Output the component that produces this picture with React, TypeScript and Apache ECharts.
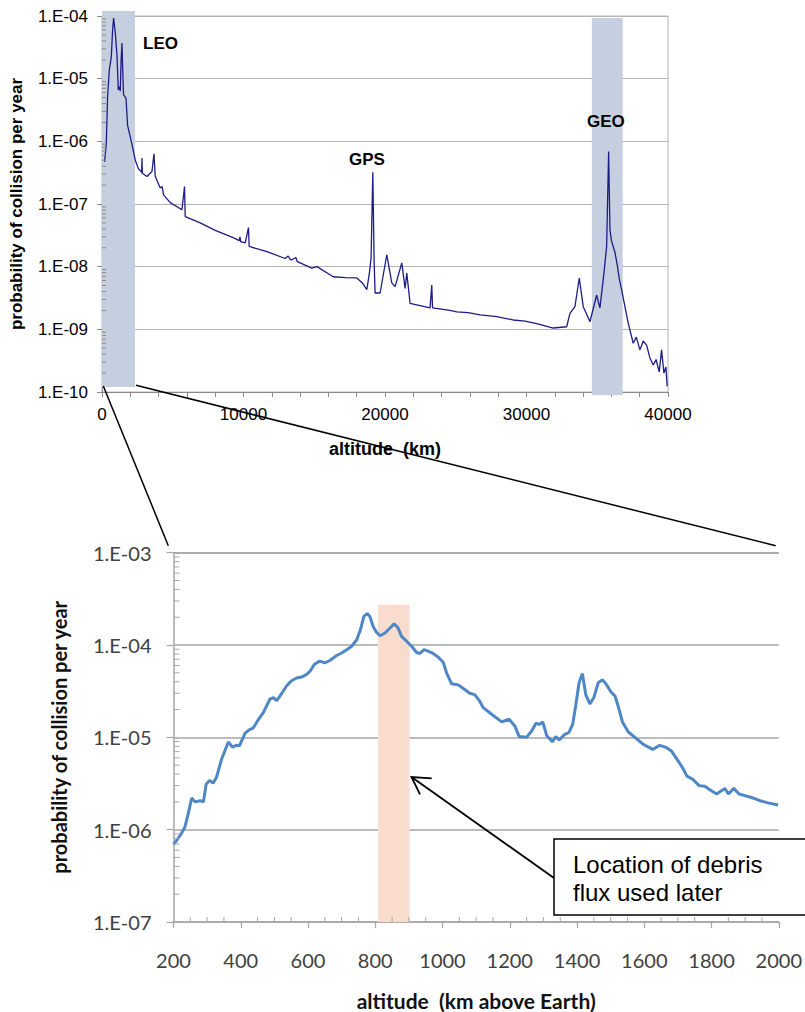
import React, { useEffect, useRef } from 'react';
import * as echarts from 'echarts';

// ---------- top chart: 0 - 40000 km ----------
const topAltitudeKm = [
  184, 304, 395, 516, 657, 750, 819, 890, 939, 1000, 1059, 1151, 1230, 1292, 1350, 1412, 1470, 1525,
  1695, 1808, 1999, 2161, 2352, 2563, 2800, 2825, 2850, 3178, 3531, 3672, 3764, 4117, 4250, 4350,
  4823, 5650, 5833, 5880, 6942, 8000, 9272, 9700, 9750, 9800, 10120, 10353, 10400, 11652, 12945,
  13160, 13300, 13418, 13700, 13800, 14830, 15200, 16335, 17200, 18008, 18400, 18714, 18898, 19018,
  19138, 19230, 19300, 19654, 20127, 20480, 20713, 21186, 21420, 21539, 21772, 23185, 23305, 23360,
  24597, 25070, 25870, 26715, 27900, 29046, 29900, 30720, 31892, 32838, 33071, 33424, 33728, 34011,
  34484, 34957, 35190, 35473, 35663, 35804, 35897, 36000, 36130, 36250, 36412, 36550, 36723, 36956,
  37189, 37542, 37760, 38015, 38250, 38489, 38720, 38955, 39160, 39378, 39547, 39710, 39851, 39943,
];
const topProbability = [
  4.7e-7, 9.3e-7, 5.1e-6, 1.38e-5, 2.2e-5, 6.0e-5, 9.3e-5, 6.7e-5, 5.4e-5, 3.5e-5, 2.4e-5, 6.6e-6, 7.5e-6, 6.3e-6, 2.0e-5, 3.7e-5, 1.2e-5, 5.5e-6,
  4.9e-6, 1.8e-6, 1.17e-6, 8.1e-7, 5.0e-7, 3.7e-7, 3.2e-7, 5.4e-7, 3.1e-7, 2.75e-7, 3.3e-7, 6.3e-7, 2.75e-7, 1.8e-7, 1.9e-7, 1.4e-7,
  1.05e-7, 8.1e-8, 1.9e-7, 6.3e-8, 5.0e-8, 3.8e-8, 2.9e-8, 2.6e-8, 3.0e-8, 2.5e-8, 2.4e-8, 4.2e-8, 2.1e-8, 1.74e-8, 1.35e-8,
  1.48e-8, 1.3e-8, 1.29e-8, 1.4e-8, 1.2e-8, 9.5e-9, 1.0e-8, 6.9e-9, 6.7e-9, 6.6e-9, 5.5e-9, 4.3e-9, 7.9e-9, 1.38e-8,
  3.2e-7, 1.26e-8, 3.8e-9, 3.8e-9, 1.55e-8, 5.5e-9, 4.8e-9, 1.15e-8, 4.5e-9, 7.9e-9, 2.6e-9, 2.2e-9, 5.1e-9, 2.2e-9,
  2.0e-9, 1.9e-9, 1.85e-9, 1.7e-9, 1.6e-9, 1.41e-9, 1.35e-9, 1.23e-9, 1.05e-9, 1.1e-9, 1.8e-9, 2.3e-9, 6.6e-9, 2.3e-9,
  1.32e-9, 3.5e-9, 2.2e-9, 7.9e-9, 2.1e-8, 6.9e-7, 3.9e-8, 2.6e-8, 2.1e-8, 1.7e-8, 1.07e-8, 6.5e-9, 4.3e-9, 2.3e-9,
  1.26e-9, 6.0e-10, 7.5e-10, 4.7e-10, 6.5e-10, 5.6e-10, 3.5e-10, 2.7e-10, 3.3e-10, 2.1e-10, 4.7e-10, 2.0e-10, 2.5e-10, 1.23e-10,
];
// shaded regions [startKm, endKm, topValue, bottomValue]
const leoBand = [0, 2330, 1.2e-4, 1.2e-10];
const geoBand = [34620, 36800, 9.3e-5, 8.9e-11];

// ---------- bottom chart: 200 - 2000 km ----------
const bottomAltitudeKm = [
  200, 212, 222, 234, 244, 254, 264, 279, 289, 297, 307, 318, 328, 343, 363, 376, 386, 396, 413, 427,
  437, 452, 467, 487, 497, 507, 522, 536, 551, 566, 581, 596, 606, 619, 635, 650, 665, 685, 700, 715,
  730, 745, 756, 766, 776, 784, 794, 804, 814, 829, 844, 856, 868, 878, 893, 908, 923, 933, 945, 957,
  972, 987, 1002, 1012, 1027, 1047, 1066, 1081, 1096, 1111, 1121, 1146, 1176, 1198, 1215, 1228, 1250,
  1265, 1278, 1288, 1298, 1310, 1327, 1337, 1347, 1364, 1376, 1387, 1396, 1406, 1416, 1426, 1438, 1450,
  1463, 1476, 1488, 1501, 1513, 1522, 1535, 1552, 1572, 1597, 1625, 1646, 1664, 1681, 1700, 1715, 1727,
  1745, 1763, 1780, 1795, 1815, 1827, 1840, 1850, 1866, 1882, 1899, 1924, 1944, 1968, 1998,
];
const bottomProbability = [
  6.9e-7, 7.9e-7, 8.9e-7, 1.07e-6, 1.5e-6, 2.2e-6, 2.0e-6, 2.06e-6, 2.0e-6, 3.1e-6, 3.4e-6, 3.2e-6, 3.7e-6, 5.8e-6, 8.9e-6, 7.8e-6, 8.2e-6, 8.1e-6, 1.11e-5, 1.22e-5,
  1.26e-5, 1.55e-5, 1.85e-5, 2.6e-5, 2.7e-5, 2.5e-5, 3.0e-5, 3.6e-5, 4.1e-5, 4.4e-5, 4.5e-5, 4.8e-5, 5.2e-5, 6.2e-5, 6.7e-5, 6.4e-5, 6.8e-5, 7.7e-5, 8.2e-5, 8.9e-5,
  9.7e-5, 1.14e-4, 1.47e-4, 2.04e-4, 2.19e-4, 2.04e-4, 1.58e-4, 1.37e-4, 1.26e-4, 1.35e-4, 1.53e-4, 1.7e-4, 1.53e-4, 1.24e-4, 1.1e-4, 9.7e-5, 8.3e-5, 8.1e-5, 8.9e-5, 8.6e-5,
  8.1e-5, 7.4e-5, 6.5e-5, 5.0e-5, 3.8e-5, 3.7e-5, 3.3e-5, 3.0e-5, 2.9e-5, 2.45e-5, 2.1e-5, 1.78e-5, 1.47e-5, 1.57e-5, 1.33e-5, 1.02e-5, 1.0e-5,
  1.17e-5, 1.42e-5, 1.38e-5, 1.47e-5, 1.04e-5, 9.0e-6, 1.02e-5, 9.4e-6, 1.08e-5, 1.13e-5, 1.38e-5, 2.2e-5, 3.9e-5, 4.9e-5, 2.9e-5, 2.3e-5, 2.7e-5,
  3.9e-5, 4.2e-5, 3.7e-5, 3.1e-5, 2.8e-5, 2.2e-5, 1.47e-5, 1.15e-5, 1.0e-5, 8.4e-6, 7.4e-6, 8.2e-6, 7.8e-6, 7.1e-6, 5.6e-6, 4.6e-6, 3.8e-6,
  3.5e-6, 3.0e-6, 2.95e-6, 2.7e-6, 2.43e-6, 2.6e-6, 2.8e-6, 2.43e-6, 2.8e-6, 2.43e-6, 2.34e-6, 2.2e-6, 2.06e-6, 1.95e-6, 1.85e-6,
];
const fluxBand = [808, 902, 2.73e-4, 1e-7];

// ---------- tick lists ----------
const topDecades = [-10, -9, -8, -7, -6, -5];
const bottomDecades = [-7, -6, -5, -4];
const mantissas = [2, 3, 4, 5, 6, 7, 8, 9];
const topYMinor: number[][] = [];
topDecades.forEach((e) => mantissas.forEach((m) => topYMinor.push([0, m * Math.pow(10, e)])));
const bottomYMinor: number[][] = [];
bottomDecades.forEach((e) => mantissas.forEach((m) => bottomYMinor.push([200, m * Math.pow(10, e)])));
const bottomXMinor: number[][] = [];
for (let v = 250; v < 2000; v += 50) if (v % 200 !== 0) bottomXMinor.push([v, 1e-7]);

const expLabel = (v: number) => {
  const e = Math.round(Math.log10(v));
  const a = Math.abs(e);
  return '1.E' + (e < 0 ? '-' : '+') + (a < 10 ? '0' + a : String(a));
};

const ARIAL = '"Liberation Sans", Arial, sans-serif';
const CAL = 'Lato, "Open Sans", sans-serif';

function bandSeries(xi: number, yi: number, band: number[], color: string) {
  return {
    type: 'custom',
    xAxisIndex: xi,
    yAxisIndex: yi,
    silent: true,
    z: 1,
    data: [band],
    renderItem: (_p: any, api: any) => {
      const p0 = api.coord([api.value(0), api.value(2)]);
      const p1 = api.coord([api.value(1), api.value(3)]);
      return {
        type: 'rect',
        shape: { x: p0[0], y: p0[1], width: p1[0] - p0[0], height: p1[1] - p0[1] },
        style: { fill: color },
      };
    },
  };
}

function tickSeries(xi: number, yi: number, data: number[][], dx: number, dy: number, color: string) {
  return {
    type: 'custom',
    xAxisIndex: xi,
    yAxisIndex: yi,
    silent: true,
    z: 5,
    data,
    renderItem: (_p: any, api: any) => {
      const p = api.coord([api.value(0), api.value(1)]);
      return {
        type: 'line',
        shape: { x1: p[0], y1: p[1], x2: p[0] + dx, y2: p[1] + dy },
        style: { stroke: color, lineWidth: 1 },
      };
    },
  };
}

export default function App() {
  const ref = useRef<HTMLDivElement>(null);
  useEffect(() => {
    if (!ref.current) return;
    const chart = echarts.init(ref.current, undefined, { renderer: 'svg' });
    const option: any = {
      animation: false,
      backgroundColor: '#ffffff',
      grid: [
        { left: 102, top: 16, width: 566, height: 376, show: true, borderColor: '#b4b4b4', borderWidth: 1 },
        { left: 173.5, top: 552.7, width: 605.5, height: 370.7 },
      ],
      xAxis: [
        {
          gridIndex: 0,
          type: 'value',
          min: 0,
          max: 40000,
          interval: 2000,
          name: 'altitude  (km)',
          nameLocation: 'middle',
          nameGap: 48,
          nameTextStyle: { fontFamily: ARIAL, fontWeight: 'bold', fontSize: 18, color: '#000' },
          axisLine: { show: true, lineStyle: { color: '#8a8a8a', width: 1 } },
          axisTick: { show: true, inside: false, length: 5, lineStyle: { color: '#8a8a8a' } },
          axisLabel: {
            fontFamily: ARIAL,
            fontSize: 17,
            color: '#000',
            margin: 14,
            formatter: (v: number) => (v % 10000 === 0 ? String(v) : ''),
          },
          splitLine: { show: false },
        },
        {
          gridIndex: 1,
          type: 'value',
          min: 200,
          max: 2000,
          interval: 200,
          name: 'altitude  (km above Earth)',
          nameLocation: 'middle',
          nameGap: 68,
          nameTextStyle: { fontFamily: CAL, fontWeight: 'bold', fontSize: 21, color: '#111' },
          axisLine: { show: true, lineStyle: { color: '#a6a6a6', width: 1.5 } },
          axisTick: { show: true, inside: false, length: 6, lineStyle: { color: '#a6a6a6', width: 1.2 } },
          axisLabel: { fontFamily: CAL, fontSize: 20, color: '#404040', margin: 28, formatter: (v: number) => String(v) },
          splitLine: { show: false },
        },
      ],
      yAxis: [
        {
          gridIndex: 0,
          type: 'log',
          logBase: 10,
          min: 1e-10,
          max: 1e-4,
          splitNumber: 6,
          name: 'probability of collision per year',
          nameLocation: 'middle',
          nameRotate: 90,
          nameGap: 77,
          nameTextStyle: { fontFamily: ARIAL, fontWeight: 'bold', fontSize: 17, color: '#000' },
          axisLine: { show: true, lineStyle: { color: '#8a8a8a', width: 1 } },
          axisTick: { show: true, inside: false, length: 5, lineStyle: { color: '#8a8a8a' } },
          axisLabel: { fontFamily: ARIAL, fontSize: 17, color: '#000', margin: 14, formatter: expLabel },
          splitLine: { show: true, lineStyle: { color: '#b4b4b4', width: 1 } },
        },
        {
          gridIndex: 1,
          type: 'log',
          logBase: 10,
          min: 1e-7,
          max: 1e-3,
          splitNumber: 4,
          name: 'probability of collision per year',
          nameLocation: 'middle',
          nameRotate: 90,
          nameGap: 105,
          nameTextStyle: { fontFamily: CAL, fontWeight: 'bold', fontSize: 20, color: '#111' },
          axisLine: { show: true, lineStyle: { color: '#a6a6a6', width: 1.5 } },
          axisTick: { show: true, inside: false, length: 7, lineStyle: { color: '#a6a6a6', width: 1.2 } },
          axisLabel: { fontFamily: CAL, fontSize: 20, color: '#404040', margin: 22, formatter: expLabel },
          splitLine: { show: true, lineStyle: { color: '#a6a6a6', width: 1.5 } },
        },
      ],
      series: [
        bandSeries(0, 0, leoBand, '#c6cfdf'),
        bandSeries(0, 0, geoBand, '#c6cfdf'),
        bandSeries(1, 1, fluxBand, '#fadccf'),
        tickSeries(0, 0, topYMinor, 4, 0, '#8a8a8a'),
        tickSeries(1, 1, bottomYMinor, 6, 0, '#a6a6a6'),
        tickSeries(1, 1, bottomXMinor, 0, -5, '#a6a6a6'),
        {
          type: 'line',
          xAxisIndex: 0,
          yAxisIndex: 0,
          z: 3,
          showSymbol: false,
          symbol: 'none',
          data: topAltitudeKm.map((x, i) => [x, topProbability[i]]),
          lineStyle: { color: '#1c1c86', width: 1.3 },
        },
        {
          type: 'line',
          xAxisIndex: 1,
          yAxisIndex: 1,
          z: 3,
          showSymbol: false,
          symbol: 'none',
          data: bottomAltitudeKm.map((x, i) => [x, bottomProbability[i]]),
          lineStyle: { color: '#4f87c6', width: 3 },
        },
      ],
      graphic: [
        { type: 'text', z: 10, style: { x: 143, y: 43, text: 'LEO', fontFamily: ARIAL, fontWeight: 'bold', fontSize: 17, fill: '#000', verticalAlign: 'middle' } },
        { type: 'text', z: 10, style: { x: 349, y: 159, text: 'GPS', fontFamily: ARIAL, fontWeight: 'bold', fontSize: 17, fill: '#000', verticalAlign: 'middle' } },
        { type: 'text', z: 10, style: { x: 587, y: 121, text: 'GEO', fontFamily: ARIAL, fontWeight: 'bold', fontSize: 17, fill: '#000', verticalAlign: 'middle' } },
        { type: 'line', z: 10, shape: { x1: 103.3, y1: 386, x2: 168.3, y2: 545.7 }, style: { stroke: '#000', lineWidth: 1.5 } },
        { type: 'line', z: 10, shape: { x1: 136, y1: 385.3, x2: 775.7, y2: 545.7 }, style: { stroke: '#000', lineWidth: 1.5 } },
        { type: 'line', z: 10, shape: { x1: 554, y1: 878, x2: 411.5, y2: 777 }, style: { stroke: '#000', lineWidth: 1.8 } },
        { type: 'polyline', z: 10, shape: { points: [[431.7, 778.3], [411.5, 777], [420, 794.3]] }, style: { stroke: '#000', lineWidth: 1.8, fill: null } },
        { type: 'rect', z: 10, shape: { x: 554, y: 839, width: 262, height: 76 }, style: { fill: '#fff', stroke: '#000', lineWidth: 1.5 } },
        { type: 'text', z: 11, style: { x: 573, y: 864, text: 'Location of debris', fontFamily: ARIAL, fontSize: 24, fill: '#000', verticalAlign: 'middle' } },
        { type: 'text', z: 11, style: { x: 573, y: 892, text: 'flux used later', fontFamily: ARIAL, fontSize: 24, fill: '#000', verticalAlign: 'middle' } },
      ],
    };
    chart.setOption(option);
    return () => chart.dispose();
  }, []);
  return (
    <div
      ref={ref}
      style={{ position: 'absolute', left: 0, top: 0, width: 805, height: 1012, background: '#fff' }}
    />
  );
}
